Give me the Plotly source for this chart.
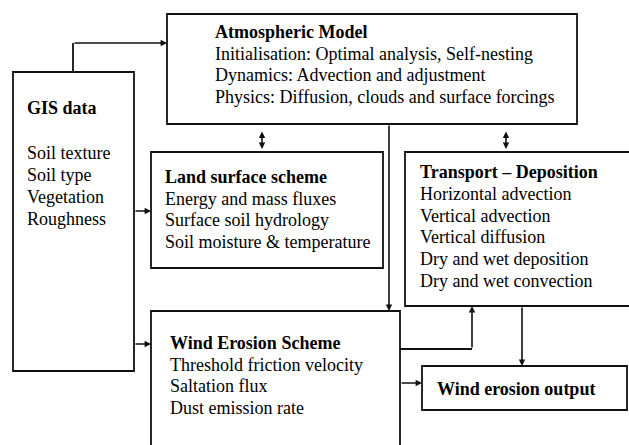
import plotly.graph_objects as go

# ---- Diagram content (text data) ----
atm_title = "Atmospheric Model"
atm_lines = ["Initialisation: Optimal analysis, Self-nesting",
             "Dynamics: Advection and adjustment",
             "Physics: Diffusion, clouds and surface forcings"]
gis_title = "GIS data"
gis_lines = ["Soil texture", "Soil type", "Vegetation", "Roughness"]
land_title = "Land surface scheme"
land_lines = ["Energy and mass fluxes", "Surface soil hydrology",
              "Soil moisture &amp; temperature"]
trans_title = "Transport – Deposition"
trans_lines = ["Horizontal advection", "Vertical advection", "Vertical diffusion",
               "Dry and wet deposition", "Dry and wet convection"]
wind_title = "Wind Erosion Scheme"
wind_lines = ["Threshold friction velocity", "Saltation flux", "Dust emission rate"]
out_title = "Wind erosion output"

W, H = 629, 445
FONT = "Liberation Serif, Times New Roman, serif"
LC = "#111111"
LW = 1.8
FS = 18

fig = go.Figure()
shapes = []
annotations = []

def box(x0, y0, x1, y1):
    shapes.append(dict(type="rect", x0=x0, y0=y0, x1=x1, y1=y1, xref="x", yref="y",
                       line=dict(color=LC, width=LW), fillcolor="rgba(0,0,0,0)"))

def seg(x0, y0, x1, y1):
    shapes.append(dict(type="line", x0=x0, y0=y0, x1=x1, y1=y1, xref="x", yref="y",
                       line=dict(color=LC, width=LW)))

def arrow(x0, y0, x1, y1, both=False):
    annotations.append(dict(x=x1, y=y1, ax=x0, ay=y0, xref="x", yref="y", axref="x", ayref="y",
                            text="", showarrow=True, arrowhead=2, arrowsize=0.8,
                            arrowwidth=1.6, arrowcolor=LC, standoff=0, startstandoff=0,
                            arrowside="end+start" if both else "end",
                            startarrowhead=2, startarrowsize=0.8))

def text_block(x, y_title, title, lines, dy, ys=None, title_size=FS):
    annotations.append(dict(x=x, y=y_title, xref="x", yref="y", text="<b>%s</b>" % title,
                            showarrow=False, xanchor="left", yanchor="middle",
                            font=dict(family=FONT, size=title_size, color="#000")))
    for i, ln in enumerate(lines):
        yy = ys[i] if ys else y_title + dy * (i + 1)
        annotations.append(dict(x=x, y=yy, xref="x", yref="y", text=ln,
                                showarrow=False, xanchor="left", yanchor="middle",
                                font=dict(family=FONT, size=FS, color="#000")))

# Boxes
box(167, 14, 577, 124)      # Atmospheric model
box(13, 72, 134, 371)       # GIS data
box(151, 152, 383, 268)     # Land surface
box(405, 152, 660, 306)     # Transport-deposition (cut at right edge)
box(151, 311, 400, 470)     # Wind erosion scheme (cut at bottom)
box(422, 366, 627, 410)     # Wind erosion output

# Connectors
seg(73, 72, 73, 43)
arrow(73, 43, 167, 43)
arrow(134, 211, 151, 211)
arrow(134, 344, 151, 344)
arrow(262, 130, 262, 149, both=True)
arrow(506, 130, 506, 149, both=True)
arrow(389, 124, 389, 311)
seg(400, 349, 472, 349)
arrow(472, 349, 472, 306)
arrow(522, 306, 522, 366)
arrow(400, 383, 422, 383)

# Texts
text_block(213, 32, atm_title, atm_lines, 21.7)
text_block(25, 108, gis_title, gis_lines, 22, ys=[153, 175, 197, 219])
text_block(163, 177, land_title, land_lines, 21.7)
text_block(418, 172, trans_title, trans_lines, 21.8)
text_block(168, 343, wind_title, wind_lines, 21.7)
annotations.append(dict(x=435, y=389, xref="x", yref="y", text="<b>%s</b>" % out_title,
                        showarrow=False, xanchor="left", yanchor="middle",
                        font=dict(family=FONT, size=FS, color="#000")))

fig.update_layout(
    width=W, height=H, margin=dict(l=0, r=0, t=0, b=0),
    paper_bgcolor="white", plot_bgcolor="white",
    xaxis=dict(range=[0, W], visible=False, fixedrange=True),
    yaxis=dict(range=[H, 0], visible=False, fixedrange=True),
    shapes=shapes, annotations=annotations, showlegend=False,
)
fig.write_html("out.html", config={"displayModeBar": False},
               post_script="document.body.style.margin='0';document.body.style.overflow='hidden';")
